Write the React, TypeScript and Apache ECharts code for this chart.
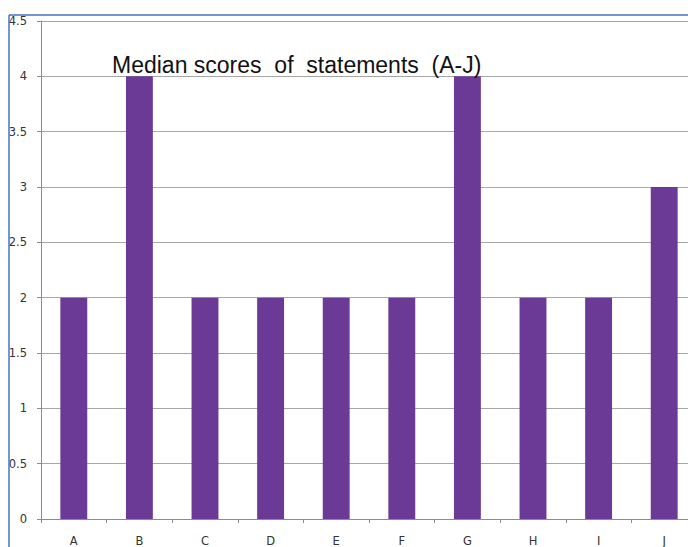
import React, { useEffect, useRef } from "react";
import * as echarts from "echarts";

const categories = ["A", "B", "C", "D", "E", "F", "G", "H", "I", "J"];
const medianScores = [2, 4, 2, 2, 2, 2, 4, 2, 2, 3];
const titleText = "Median scores  of  statements  (A-J)";

export default function App() {
  const ref = useRef<HTMLDivElement>(null);
  useEffect(() => {
    if (!ref.current) return;
    const chart = echarts.init(ref.current, undefined, { renderer: "svg" });
    chart.setOption({
      animation: false,
      backgroundColor: "#ffffff",
      grid: { left: 41, right: 13, top: 21, bottom: 22, containLabel: false },
      title: {
        text: titleText,
        left: 107,
        top: 48,
        textStyle: { fontFamily: "Liberation Sans, Arial, sans-serif", fontSize: 23, fontWeight: "normal", color: "#111" },
      },
      xAxis: {
        type: "category",
        data: categories,
        axisLine: { lineStyle: { color: "#8c8c8c", width: 1 } },
        axisTick: { show: true, length: 4, lineStyle: { color: "#8c8c8c" } },
        axisLabel: { margin: 16, fontSize: 11.5, color: "#333", fontFamily: "DejaVu Sans, sans-serif" },
      },
      yAxis: {
        type: "value",
        min: 0,
        max: 4.5,
        interval: 0.5,
        axisLine: { show: true, lineStyle: { color: "#8c8c8c", width: 1 } },
        axisTick: { show: true, length: 4, lineStyle: { color: "#8c8c8c" } },
        axisLabel: { margin: 14, fontSize: 11.5, color: "#333", fontFamily: "DejaVu Sans, sans-serif" },
        splitLine: { show: true, lineStyle: { color: "#a6a6a6", width: 1 } },
      },
      series: [
        {
          type: "bar",
          data: medianScores,
          barWidth: "41%",
          itemStyle: { color: "#6b3a97" },
        },
      ],
      graphic: [
        { type: "line", shape: { x1: 9, y1: 15, x2: 720, y2: 15 }, style: { stroke: "#4472c4", lineWidth: 1.5 }, z: 100 },
        { type: "line", shape: { x1: 9, y1: 15, x2: 9, y2: 560 }, style: { stroke: "#4472c4", lineWidth: 1.5 }, z: 100 },
      ],
    });
    return () => chart.dispose();
  }, []);
  return (
    <div style={{ position: "absolute", left: 0, top: 0, width: 688, height: 547, overflow: "hidden", background: "#fff" }}>
      <div ref={ref} style={{ width: 710, height: 547 }} />
    </div>
  );
}
